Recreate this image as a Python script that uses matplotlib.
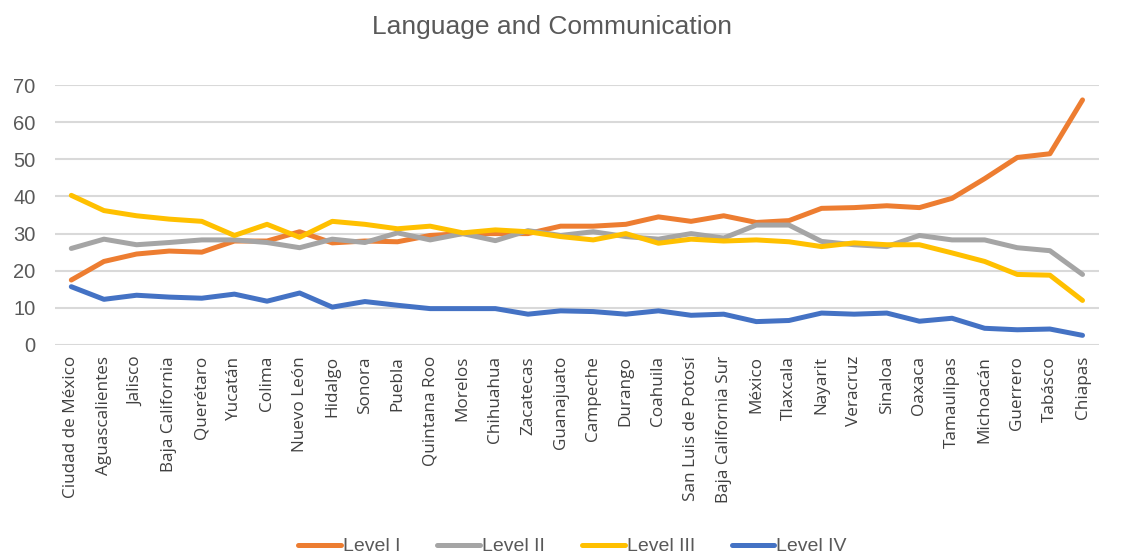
import matplotlib.pyplot as plt
import numpy as np

# states, ordered as in the chart
estados = ["Ciudad de México", "Aguascalientes", "Jalisco", "Baja California", "Querétaro",
           "Yucatán", "Colima", "Nuevo León", "Hidalgo", "Sonora", "Puebla", "Quintana Roo",
           "Morelos", "Chihuahua", "Zacatecas", "Guanajuato", "Campeche", "Durango", "Coahuila",
           "San Luis de Potosí", "Baja California Sur", "México", "Tlaxcala", "Nayarit",
           "Veracruz", "Sinaloa", "Oaxaca", "Tamaulipas", "Michoacán", "Guerrero", "Tabásco",
           "Chiapas"]

level1 = [17.5, 22.5, 24.5, 25.3, 25.0, 28.0, 28.0, 30.5, 27.5, 28.0, 27.8, 29.5, 30.0, 30.0,
          30.0, 32.0, 32.0, 32.5, 34.5, 33.3, 34.8, 33.0, 33.5, 36.8, 37.0, 37.5, 37.0, 39.5,
          44.8, 50.5, 51.5, 66.0]
level2 = [26.0, 28.5, 27.0, 27.6, 28.3, 28.3, 27.6, 26.2, 28.5, 27.6, 30.2, 28.3, 30.0, 28.1,
          30.8, 29.5, 30.5, 29.2, 28.5, 30.0, 28.8, 32.3, 32.3, 27.9, 27.0, 26.5, 29.5, 28.3,
          28.3, 26.2, 25.4, 19.0]
level3 = [40.3, 36.2, 34.8, 33.9, 33.3, 29.5, 32.5, 29.0, 33.3, 32.5, 31.3, 32.0, 30.2, 31.0,
          30.5, 29.2, 28.3, 30.0, 27.4, 28.5, 28.0, 28.3, 27.8, 26.5, 27.5, 27.0, 27.0, 24.8,
          22.5, 19.0, 18.8, 12.0]
level4 = [15.7, 12.3, 13.4, 12.9, 12.6, 13.7, 11.8, 14.0, 10.2, 11.7, 10.7, 9.8, 9.8, 9.8,
          8.3, 9.2, 9.0, 8.3, 9.2, 8.0, 8.3, 6.3, 6.6, 8.6, 8.3, 8.6, 6.4, 7.2, 4.5, 4.1, 4.3, 2.6]

series = [("Level I", level1, "#ED7D31"),
          ("Level II", level2, "#A5A5A5"),
          ("Level III", level3, "#FFC000"),
          ("Level IV", level4, "#4472C4")]

fig = plt.figure(figsize=(11.27, 5.56), dpi=100)
ax = fig.add_axes([0.0488, 0.3795, 0.9262, 0.4675])

x = np.arange(len(estados))
for nombre, vals, col in series:
    ax.plot(x, vals, color=col, linewidth=3.6, label=nombre, solid_capstyle="round")

ax.set_xlim(-0.5, len(estados) - 0.5)
ax.set_ylim(0, 70)
ax.set_yticks(range(0, 71, 10))
ax.grid(axis="y", color="#D9D9D9", linewidth=1.5)
ax.set_axisbelow(True)
for s in ax.spines.values():
    s.set_visible(False)
ax.tick_params(axis="both", length=0)
ax.tick_params(axis="y", labelsize=14.5, labelcolor="#595959", pad=14)
for t in ax.get_yticklabels():
    t.set_fontfamily("Liberation Sans")

ax.set_xticks(x)
ax.set_xticklabels(estados, rotation=90, fontsize=12.3, color="#404040",
                   fontfamily="Open Sans")
ax.tick_params(axis="x", pad=8)

fig.text(0.49, 0.952, "Language and Communication", ha="center", va="center",
         fontsize=19, color="#595959", fontfamily="Liberation Sans")

leg = fig.legend(loc="center", bbox_to_anchor=(0.508, 0.017), ncol=4, frameon=False,
                 fontsize=14, handlelength=2.2, handletextpad=0.1, columnspacing=1.9)
for t in leg.get_texts():
    t.set_color("#595959")
    t.set_fontfamily("Liberation Sans")

fig.savefig("out.png", dpi=100)
